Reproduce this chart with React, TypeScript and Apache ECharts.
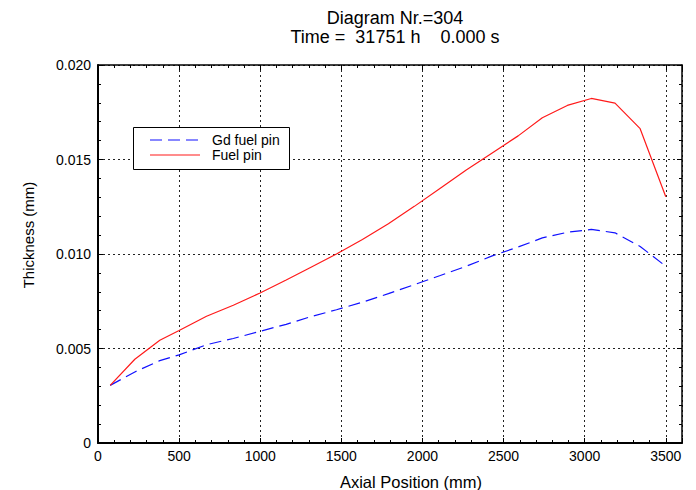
import React, { useEffect, useRef } from "react";
import * as echarts from "echarts";

const axialPositions = [75, 227, 381, 500, 669, 834, 999, 1160, 1307, 1470, 1630, 1790, 1950, 2110, 2270, 2430, 2590, 2739, 2893, 3041, 3187, 3342, 3500];
const fuelPin = [0.00305, 0.00443, 0.00544, 0.00595, 0.00671, 0.00729, 0.00794, 0.00862, 0.00927, 0.01000, 0.01077, 0.0116, 0.01252, 0.01348, 0.01445, 0.01535, 0.01625, 0.01721, 0.01786, 0.01823, 0.01798, 0.01663, 0.01303];
const gdFuelPin = [0.00305, 0.00376, 0.00436, 0.00466, 0.0052, 0.00553, 0.00591, 0.00628, 0.00667, 0.00705, 0.00745, 0.0079, 0.00838, 0.00886, 0.00935, 0.0099, 0.01037, 0.01085, 0.01115, 0.0113, 0.01112, 0.0104, 0.00935];
const titleLines = ["Diagram Nr.=304", "Time =  31751 h    0.000 s"];
const seriesNames = ["Gd fuel pin", "Fuel pin"];
const xAxisName = "Axial Position (mm)";
const yAxisName = "Thickness (mm)";

const FONT = "'Liberation Sans', Arial, sans-serif";
const BLUE = "#1010ff";
const RED = "#ff1a1a";
const DASH = [12, 6];

export default function App() {
  const ref = useRef<HTMLDivElement>(null);
  useEffect(() => {
    if (!ref.current) return;
    const chart = echarts.init(ref.current, undefined, { renderer: "svg" });
    const pair = (xs: number[], ys: number[]) => xs.map((x, i) => [x, ys[i]]);
    const tickStyle = {
      axisTick: { show: true, inside: true, length: 5, lineStyle: { color: "#000", width: 1 } },
      minorTick: { show: true, splitNumber: 5, length: 3, lineStyle: { color: "#000", width: 1 } },
    };
    chart.setOption({
      animation: false,
      backgroundColor: "#fff",
      textStyle: { fontFamily: FONT },
      title: {
        text: titleLines.join("\n"),
        left: 390,
        textAlign: "center",
        top: 3,
        textStyle: { fontFamily: FONT, fontSize: 18, fontWeight: "normal", color: "#000", lineHeight: 19 },
      },
      grid: { left: 98, right: 14, top: 65, bottom: 47, containLabel: false },
      xAxis: [
        {
          type: "value",
          min: 0,
          max: 3600,
          interval: 500,
          axisLine: { show: true, onZero: false, lineStyle: { color: "#000", width: 2 } },
          axisLabel: {
            color: "#000",
            fontSize: 14,
            margin: 6,
            showMaxLabel: false,
            fontFamily: FONT,
            formatter: (v: number) => String(v),
          },
          splitLine: { show: true, lineStyle: { color: "#222", type: [2, 3], width: 1 } },
          ...tickStyle,
        },
        {
          type: "value",
          position: "top",
          min: 0,
          max: 3600,
          interval: 500,
          axisLine: { show: true, onZero: false, lineStyle: { color: "#000", width: 1.5 } },
          axisLabel: { show: false },
          splitLine: { show: false },
          ...tickStyle,
        },
      ],
      yAxis: [
        {
          type: "value",
          min: 0,
          max: 0.02,
          interval: 0.005,
          axisLine: { show: true, onZero: false, lineStyle: { color: "#000", width: 2 } },
          axisLabel: {
            color: "#000",
            fontSize: 14,
            margin: 7,
            fontFamily: FONT,
            formatter: (v: number) => (v === 0 ? "0" : v.toFixed(3)),
          },
          splitLine: { show: true, lineStyle: { color: "#222", type: [2, 3], width: 1 } },
          ...tickStyle,
        },
        {
          type: "value",
          position: "right",
          min: 0,
          max: 0.02,
          interval: 0.005,
          axisLine: { show: true, onZero: false, lineStyle: { color: "#000", width: 1.5 } },
          axisLabel: { show: false },
          splitLine: { show: false },
          ...tickStyle,
        },
      ],
      graphic: [
        {
          type: "text",
          x: 411,
          y: 482,
          style: { text: xAxisName, font: `16.5px ${FONT}`, fill: "#000", textAlign: "center", textVerticalAlign: "middle" },
        },
        {
          type: "text",
          x: 28,
          y: 235,
          rotation: Math.PI / 2,
          style: { text: yAxisName, font: `15px ${FONT}`, fill: "#000", textAlign: "center", textVerticalAlign: "middle" },
        },
        {
          type: "rect",
          z: 100,
          shape: { x: 133.5, y: 127.5, width: 156, height: 42 },
          style: { fill: "#fff", stroke: "#000", lineWidth: 1 },
        },
        {
          type: "line",
          z: 101,
          shape: { x1: 150, y1: 140, x2: 200, y2: 140 },
          style: { stroke: BLUE, lineWidth: 1.2, lineDash: DASH },
        },
        {
          type: "line",
          z: 101,
          shape: { x1: 150, y1: 155, x2: 200, y2: 155 },
          style: { stroke: RED, lineWidth: 1.2 },
        },
        {
          type: "text",
          z: 101,
          x: 212,
          y: 140,
          style: { text: seriesNames[0], font: `14px ${FONT}`, fill: "#000", textVerticalAlign: "middle" },
        },
        {
          type: "text",
          z: 101,
          x: 212,
          y: 155,
          style: { text: seriesNames[1], font: `14px ${FONT}`, fill: "#000", textVerticalAlign: "middle" },
        },
      ],
      series: [
        {
          name: seriesNames[0],
          type: "line",
          data: pair(axialPositions, gdFuelPin),
          showSymbol: false,
          symbol: "none",
          lineStyle: { color: BLUE, width: 1.2, type: DASH },
          itemStyle: { color: BLUE },
        },
        {
          name: seriesNames[1],
          type: "line",
          data: pair(axialPositions, fuelPin),
          showSymbol: false,
          symbol: "none",
          lineStyle: { color: RED, width: 1.2 },
          itemStyle: { color: RED },
        },
      ],
    });
    return () => chart.dispose();
  }, []);
  return (
    <div
      ref={ref}
      style={{ position: "fixed", left: 0, top: 0, width: 696, height: 490, background: "#fff" }}
    />
  );
}
